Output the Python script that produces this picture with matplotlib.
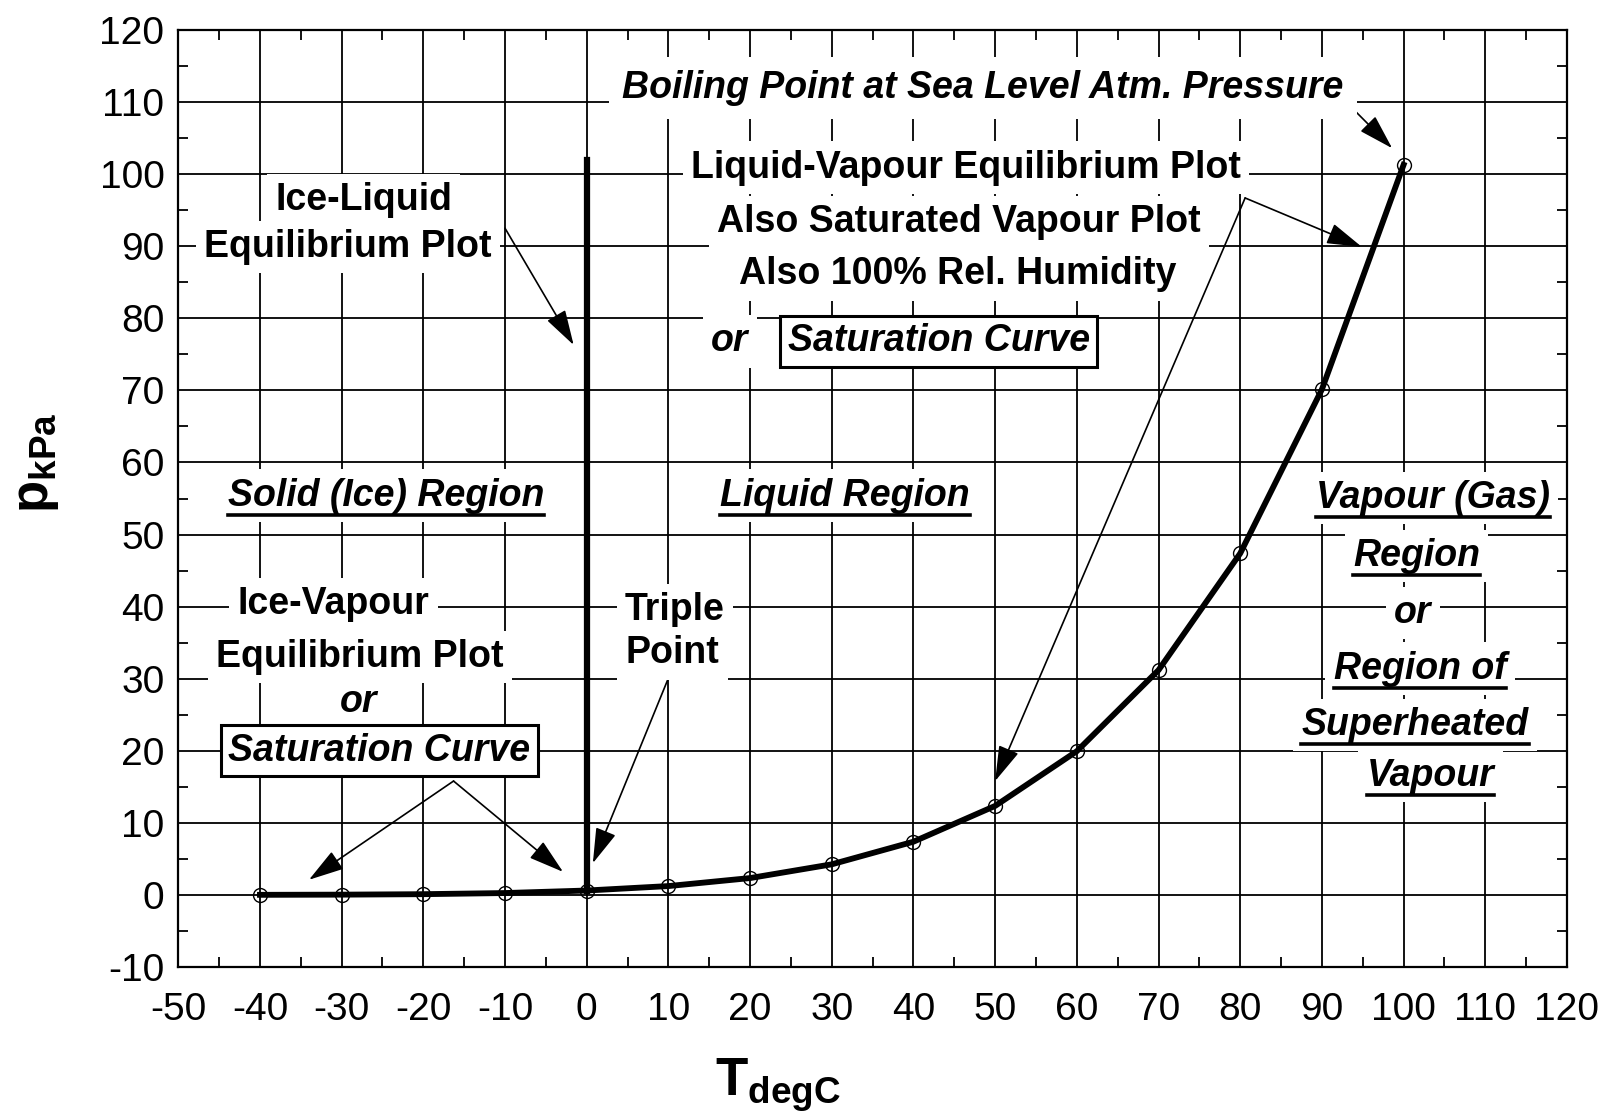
import matplotlib
matplotlib.use('Agg')
import matplotlib.pyplot as plt
from matplotlib.lines import Line2D
import matplotlib.ticker as mtick

plt.rcParams['font.family'] = ['Liberation Sans', 'DejaVu Sans']
plt.rcParams['axes.unicode_minus'] = False
plt.rcParams['mathtext.fontset'] = 'custom'
plt.rcParams['mathtext.bf'] = 'Liberation Sans:bold'
plt.rcParams['mathtext.rm'] = 'Liberation Sans'

# saturation (ice-vapour / liquid-vapour) points
temp_c = [-40, -30, -20, -10, 0.01, 10, 20, 30, 40, 50, 60, 70, 80, 90, 100]
p_kpa = [0.013, 0.038, 0.103, 0.26, 0.611, 1.228, 2.339, 4.246, 7.384,
         12.35, 19.94, 31.19, 47.39, 70.14, 101.3]

# ice-liquid line
ice_liq_t = [0.01, 0.01]
ice_liq_p = [0.611, 102.0]

xticks = list(range(-50, 121, 10))
yticks = list(range(-10, 121, 10))

fig = plt.figure(figsize=(16.06, 11.12), dpi=100)
ax = fig.add_axes([0.111, 0.1304, 0.8647, 0.8426])

ax.set_xlim(-50, 120)
ax.set_ylim(-10, 120)
ax.set_xticks(xticks)
ax.set_yticks(yticks)
ax.xaxis.set_minor_locator(mtick.MultipleLocator(5))
ax.yaxis.set_minor_locator(mtick.MultipleLocator(5))
ax.tick_params(which='both', direction='in', top=True, right=True, width=1.3)
ax.tick_params(which='major', length=0, labelsize=28)
ax.tick_params(which='minor', length=7)
ax.tick_params(axis='y', pad=10)
ax.tick_params(axis='x', pad=18)
ax.grid(True, which='major', color='black', lw=1.3)
ax.set_axisbelow(True)
for s in ax.spines.values():
    s.set_linewidth(1.6)

ax.plot(temp_c, p_kpa, color='black', lw=4.2, zorder=2)
ax.plot(temp_c, p_kpa, ls='none', marker='o', ms=10, mfc='none', mec='black', mew=1.0, zorder=2.5)
ax.plot(ice_liq_t, ice_liq_p, color='black', lw=4.5, zorder=2)

fs = 27
wbox = dict(boxstyle='square,pad=0.22', fc='white', ec='none')

def txt(x, y, s, italic=False, box=None, **kw):
    b = box if box is not None else wbox
    return ax.text(x, y, s, fontsize=fs, fontweight='bold',
                   fontstyle='italic' if italic else 'normal',
                   ha='center', va='center', bbox=b, zorder=4, **kw)

framed = dict(boxstyle='square,pad=0.2', fc='white', ec='black', lw=2.2)

txt(48.5, 112.0, 'Boiling Point at Sea Level Atm. Pressure', italic=True,
    box=dict(boxstyle='square,pad=0.35', fc='white', ec='none'))
txt(46.4, 100.9, 'Liquid-Vapour Equilibrium Plot')
txt(45.6, 93.3, 'Also Saturated Vapour Plot')
txt(45.4, 86.1, 'Also 100% Rel. Humidity')
txt(17.5, 76.8, 'or', italic=True)
txt(43.1, 76.8, 'Saturation Curve', italic=True, box=framed)

txt(-27.3, 96.4, 'Ice-Liquid')
txt(-29.2, 89.9, 'Equilibrium Plot')

underlined = []
underlined.append(txt(-24.6, 55.4, 'Solid (Ice) Region', italic=True))
underlined.append(txt(31.6, 55.4, 'Liquid Region', italic=True))
underlined.append(txt(103.6, 55.1, 'Vapour (Gas)', italic=True))
underlined.append(txt(101.6, 47.0, 'Region', italic=True))
txt(101.1, 39.1, 'or', italic=True)
underlined.append(txt(102.0, 31.4, 'Region of', italic=True))
underlined.append(txt(101.4, 23.6, 'Superheated', italic=True))
underlined.append(txt(103.3, 16.5, 'Vapour', italic=True))

txt(-31.0, 40.3, 'Ice-Vapour')
txt(-27.8, 33.0, 'Equilibrium Plot')
txt(-27.9, 26.7, 'or', italic=True)
txt(-25.4, 20.0, 'Saturation Curve', italic=True, box=framed)

txt(10.8, 39.5, 'Triple')
txt(10.5, 33.5, 'Point')

arrow = dict(arrowstyle='-|>,head_length=1.1,head_width=0.33', color='black',
             lw=1.2, shrinkA=0, shrinkB=0, mutation_scale=20)
arrows = [((92.1, 111.0), (98.6, 103.6)),
          ((80.6, 96.7), (94.9, 89.9)),
          ((80.6, 96.7), (50.0, 15.8)),
          ((-10.0, 92.5), (-1.6, 76.3)),
          ((9.9, 29.8), (0.75, 4.4)),
          ((-16.3, 15.8), (-34.0, 2.1)),
          ((-16.3, 15.8), (-2.9, 3.2))]
for tail, head in arrows:
    ax.annotate('', xy=head, xytext=tail, arrowprops=arrow, zorder=3)

fig.text(36 / 1606, 1 - 463 / 1112, r'$\mathbf{p}_{\mathbf{kPa}}$', fontsize=38,
         rotation=90, ha='center', va='center')
fig.text(778 / 1606, 1 - 1086 / 1112, r'$\mathbf{T}_{\mathbf{degC}}$', fontsize=38,
         ha='center', va='center')

# underline the region names
fig.canvas.draw()
r = fig.canvas.get_renderer()
inv = fig.transFigure.inverted()
for t in underlined:
    bb = t.get_window_extent(r)
    (x0, y0), (x1, _) = inv.transform([(bb.x0, bb.y0 - 1), (bb.x1, bb.y0)])
    fig.add_artist(Line2D([x0, x1], [y0, y0], color='black', lw=2.6, zorder=5))

fig.savefig('out.png', dpi=100)
